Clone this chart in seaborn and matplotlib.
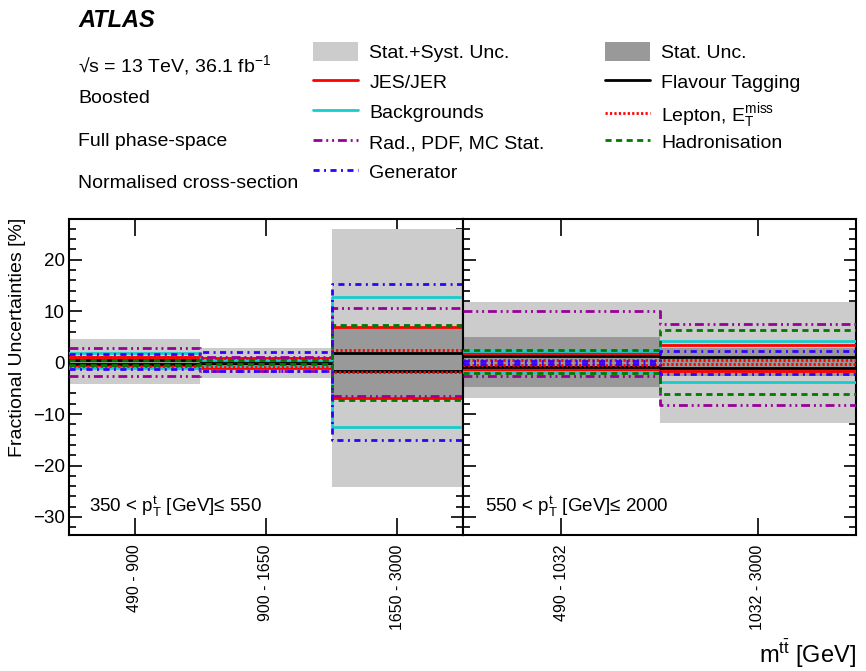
import numpy as np
import pandas as pd
import matplotlib
matplotlib.use("Agg")
import matplotlib.pyplot as plt
import seaborn as sns
from matplotlib.lines import Line2D
from matplotlib.patches import Patch
from matplotlib.ticker import MultipleLocator

# ---------------- data ----------------
bins_left = ["490 - 900", "900 - 1650", "1650 - 3000"]
bins_right = ["490 - 1032", "1032 - 3000"]
panel_left_label = r"350 < p$_{\mathrm{T}}^{\mathrm{t}}$ [GeV]≤ 550"
panel_right_label = r"550 < p$_{\mathrm{T}}^{\mathrm{t}}$ [GeV]≤ 2000"

total_up = [4.5, 2.8, 26.0, 11.8, 11.7]
total_dn = [-4.2, -2.9, -24.2, -6.8, -11.8]
stat_up = [0.8, 0.6, 6.7, 4.9, 2.9]
stat_dn = [-0.8, -0.6, -6.7, -4.7, -2.6]
jes_up = [1.1, 0.9, 7.0, 1.9, 3.4]
jes_dn = [-0.8, -1.0, -6.8, -1.4, -1.6]
flav_up = [0.6, 0.3, 1.8, 1.2, 1.0]
flav_dn = [-0.2, -0.3, -1.6, -0.8, -1.1]
bkg_up = [1.8, 0.6, 12.7, 2.3, 4.2]
bkg_dn = [-1.1, -0.6, -12.6, -1.9, -3.7]
lep_up = [1.0, 0.8, 2.5, 0.5, 0.5]
lep_dn = [-0.7, -0.8, -1.9, -0.45, -0.3]
rad_up = [2.9, 1.0, 10.7, 10.1, 7.5]
rad_dn = [-2.7, -1.6, -6.5, -2.6, -8.2]
had_up = [0.5, 0.5, 7.4, 2.5, 6.3]
had_dn = [-0.4, -0.3, -7.2, -2.0, -6.1]
gen_up = [1.6, 2.1, 15.2, 0.3, 2.3]
gen_dn = [-1.3, -1.6, -15.0, -0.3, -2.2]

# ---------------- style ----------------
sns.set_style("ticks")
plt.rcParams["font.family"] = ["Liberation Sans", "DejaVu Sans"]
plt.rcParams["mathtext.fontset"] = "custom"
plt.rcParams["mathtext.rm"] = "Liberation Sans"
plt.rcParams["mathtext.it"] = "Liberation Sans:italic"
plt.rcParams["mathtext.bf"] = "Liberation Sans:bold"
plt.rcParams["axes.linewidth"] = 1.5
for k in ["text.color", "axes.labelcolor", "xtick.color", "ytick.color", "axes.edgecolor"]:
    plt.rcParams[k] = "black"

C_TOT = "#cccccc"
C_STAT = "#999999"
series = [
    ("JES/JER", jes_up, jes_dn, "#ff0000", "-"),
    ("Flavour Tagging", flav_up, flav_dn, "#000000", "-"),
    ("Backgrounds", bkg_up, bkg_dn, "#19cccc", "-"),
    (r"Lepton, E$_{\mathrm{T}}^{\mathrm{miss}}$", lep_up, lep_dn, "#ff0000", (0, (0.8, 0.8))),
    ("Rad., PDF, MC Stat.", rad_up, rad_dn, "#990099", (0, (3.2, 1.4, 0.7, 1.4, 0.7, 1.4))),
    ("Hadronisation", had_up, had_dn, "#007a00", (0, (2.2, 1.6))),
    ("Generator", gen_up, gen_dn, "#3300ff", (0, (2.2, 1.6, 0.7, 1.6))),
]
LW = 2.0

W, H = 866, 671
fig = plt.figure(figsize=(W / 100, H / 100), dpi=100)
ax_b, ax_t = 535, 219
axL = fig.add_axes([69 / W, 1 - ax_b / H, (463 - 69) / W, (ax_b - ax_t) / H])
axR = fig.add_axes([463 / W, 1 - ax_b / H, (856 - 463) / W, (ax_b - ax_t) / H], sharey=axL)

panels = [(axL, slice(0, 3), bins_left, panel_left_label),
          (axR, slice(3, 5), bins_right, panel_right_label)]

for ax, sl, labels, plabel in panels:
    n = len(labels)
    edges = np.arange(n + 1)
    centers = edges[:-1] + 0.5
    tu, td = np.array(total_up[sl]), np.array(total_dn[sl])
    su, sd = np.array(stat_up[sl]), np.array(stat_dn[sl])
    ax.bar(centers, tu - td, bottom=td, width=1.0, color=C_TOT, linewidth=0, zorder=1)
    ax.bar(centers, su - sd, bottom=sd, width=1.0, color=C_STAT, linewidth=0, zorder=2)
    for name, up, dn, col, ls in series:
        for vals in (up, dn):
            v = list(vals[sl])
            df = pd.DataFrame({"x": edges, "y": v + [v[-1]]})
            sns.lineplot(data=df, x="x", y="y", ax=ax, color=col, linestyle=ls,
                         linewidth=LW, drawstyle="steps-post", estimator=None,
                         legend=False, zorder=3)
    ax.set_xlim(0, n)
    ax.set_xticks(centers)
    ax.set_xticklabels(labels, rotation=90, fontsize=11.5, va="top")
    ax.set_xlabel("")
    ax.set_ylabel("")
    ax.tick_params(axis="x", which="major", direction="in", top=True, bottom=True,
                   length=12, width=1.2, pad=7)
    ax.tick_params(axis="y", which="major", direction="in", left=True, right=True,
                   length=9, width=1.2, labelsize=13.5, pad=3)
    ax.tick_params(axis="y", which="minor", direction="in", left=True, right=True,
                   length=5, width=1.2)
    ax.text(0.05 if ax is axL else 0.055, 0.0735, plabel, transform=ax.transAxes,
            fontsize=13.5, ha="left", va="baseline")

axL.set_ylim(-33.5, 27.9)
axL.yaxis.set_major_locator(MultipleLocator(10))
axL.yaxis.set_minor_locator(MultipleLocator(2))
axR.tick_params(axis="y", which="both", labelleft=False)

# y label
fig.text(18 / W, 1 - 218 / H, "Fractional Uncertainties [%]", rotation=90,
         ha="center", va="top", fontsize=14)
# x label
fig.text(856 / W, 1 - 663 / H, r"m$^{\mathrm{t\bar{t}}}$ [GeV]", ha="right",
         va="baseline", fontsize=17)

# header text
fig.text(78 / W, 1 - 27 / H, "ATLAS", fontsize=17, fontweight="bold",
         fontstyle="italic", ha="left", va="baseline")
fig.text(78 / W, 1 - 72 / H, "√s = 13 TeV, 36.1 fb$^{-1}$", fontsize=14,
         ha="left", va="baseline")
fig.text(78 / W, 1 - 103 / H, "Boosted", fontsize=14, ha="left", va="baseline")
fig.text(78 / W, 1 - 146 / H, "Full phase-space", fontsize=14, ha="left", va="baseline")
fig.text(78 / W, 1 - 188 / H, "Normalised cross-section", fontsize=14, ha="left",
         va="baseline")

def h_line(col, ls):
    return Line2D([], [], color=col, linestyle=ls, linewidth=LW)

names = {s[0]: s for s in series}
h1 = [Patch(facecolor=C_TOT, edgecolor="none")] + [
    h_line(names[k][3], names[k][4]) for k in
    ["JES/JER", "Backgrounds", "Rad., PDF, MC Stat.", "Generator"]]
l1 = ["Stat.+Syst. Unc.", "JES/JER", "Backgrounds", "Rad., PDF, MC Stat.", "Generator"]
lep = r"Lepton, E$_{\mathrm{T}}^{\mathrm{miss}}$"

common = dict(frameon=False, fontsize=14, borderpad=0,
              borderaxespad=0, handlelength=2.3, handleheight=1.15,
              handletextpad=0.6, labelspacing=0.5)
fig.legend(h1, l1, loc="upper left", bbox_to_anchor=(313 / W, 1 - 42 / H), **common)
# second column: one entry per row so the taller math label keeps the row pitch
col2 = [
    (Patch(facecolor=C_STAT, edgecolor="none"), "Stat. Unc.", 52),
    (h_line(names["Flavour Tagging"][3], "-"), "Flavour Tagging", 82),
    (h_line(names[lep][3], names[lep][4]), lep, 115.5),
    (h_line(names["Hadronisation"][3], names["Hadronisation"][4]), "Hadronisation", 142),
]
for h, l, yc in col2:
    fig.legend([h], [l], loc="center left", bbox_to_anchor=(605 / W, 1 - yc / H), **common)

fig.savefig("out.png", dpi=100)
